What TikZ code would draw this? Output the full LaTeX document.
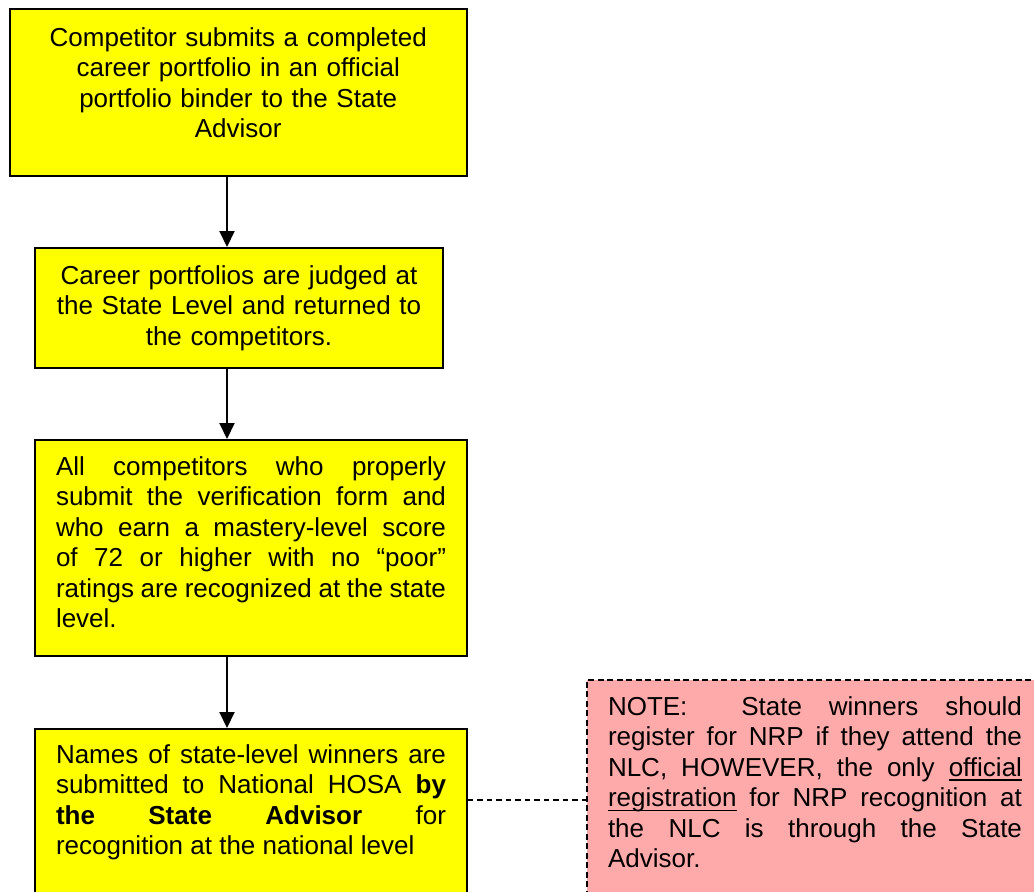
\documentclass[tikz,border=0pt]{standalone}
\usepackage{fontspec}
\setmainfont[Ligatures={TeX,NoCommon}]{Liberation Sans}
\usetikzlibrary{arrows.meta,positioning,calc}
\definecolor{stepyellow}{RGB}{255,255,0}
\definecolor{notepink}{RGB}{255,170,170}
\newcommand\ulword[1]{\leavevmode\setbox0\hbox{#1}\rlap{\rule[-4.5pt]{\wd0}{1.5pt}}\box0\relax}

\begin{document}
\begin{tikzpicture}[x=1pt,y=1pt,font=\fontsize{26}{30.5}\selectfont,
  >={Triangle[length=16pt,width=15pt]},
  stepbox/.style={draw=black,line width=2pt,fill=stepyellow,inner sep=0pt},
  notebox/.style={draw=black,line width=1.9pt,dash pattern=on 6pt off 3.5pt,
    fill=notepink,inner sep=0pt},
  steptext/.style={inner sep=0pt,anchor=base,
    execute at begin node={\frenchspacing\hyphenpenalty=10000
      \exhyphenpenalty=10000\tolerance=9999\emergencystretch=20pt}},
  flow/.style={->,line width=2pt},
  notelink/.style={line width=1.9pt,dash pattern=on 5.5pt off 4pt}]
  \useasboundingbox (0,0) rectangle (1034,-892);
  \begin{scope}
  \clip (0,0) rectangle (1034,-892);
  % ---- the four steps, top to bottom ----
  \node[stepbox,minimum width=456.5pt,minimum height=167pt] (b1) at (238.25,-92.5) {};
  \node[stepbox,minimum width=408pt,minimum height=119.5pt] (b2) at (239,-307.75) {};
  \node[stepbox,minimum width=431.5pt,minimum height=216pt] (b3) at (250.75,-548) {};
  \node[stepbox,minimum width=431.5pt,minimum height=191pt] (b4) at (250.75,-824.5) {};
  \node[steptext,text width=440pt,align=center] (t1) at (238.25,-46)
    {Competitor submits a completed\\career portfolio in an official\\
     portfolio binder to the State\\Advisor};
  \node[steptext,text width=400pt,align=center] (t2) at (239,-284)
    {Career portfolios are judged at\\the State Level and returned to\\
     the competitors.};
  \node[steptext,text width=390pt,align=justify] (t3) at (251,-475)
    {All competitors who properly\linebreak submit the verification form and\linebreak
     who earn a mastery-level score\linebreak of 72 or higher with no “poor”\linebreak
     ratings are recognized at the state\linebreak level.};
  \node[steptext,text width=390pt,align=justify] (t4) at (251,-763)
    {Names of state-level winners are\linebreak submitted to National HOSA \textbf{by}\linebreak
     \textbf{the State Advisor} for\linebreak recognition at the national level};
  % ---- note on registration, right ----
  \node[notebox,minimum width=463.3pt,minimum height=240pt] (note) at (818.35,-800) {};
  \node[steptext,text width=414pt,align=justify] (tn) at (815,-715)
    {NOTE:\ \ State winners should\linebreak register for NRP if they attend the\linebreak
     NLC, HOWEVER, the only \ulword{official}\linebreak \ulword{registration} for NRP recognition at\linebreak
     the NLC is through the State\linebreak Advisor.};
  % ---- connectors ----
  \coordinate (spine) at (227,0);
  \draw[flow] (b1.south -| spine) -- (b2.north -| spine);
  \draw[flow] (b2.south -| spine) -- (b3.north -| spine);
  \draw[flow] (b3.south -| spine) -- (b4.north -| spine);
  \draw[notelink] (note.west -| b4.east) -- (note.west);
  \end{scope}
\end{tikzpicture}
\end{document}
